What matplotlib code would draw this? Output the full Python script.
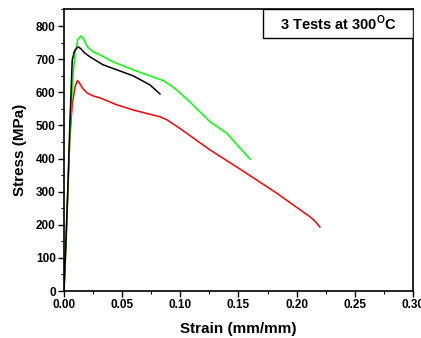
import numpy as np
import matplotlib
matplotlib.use('Agg')
import matplotlib.pyplot as plt
from matplotlib.ticker import MultipleLocator, FormatStrFormatter
from matplotlib.patches import Rectangle

plt.rcParams['font.family'] = ['Liberation Sans', 'DejaVu Sans']
plt.rcParams['font.weight'] = 'bold'
plt.rcParams['mathtext.fontset'] = 'custom'
plt.rcParams['mathtext.bf'] = 'Liberation Sans:bold'
plt.rcParams['mathtext.rm'] = 'Liberation Sans:bold'

# test 1 (black)
strain_black = [0, 0.001, 0.002, 0.0035, 0.005, 0.0071, 0.009, 0.012, 0.014, 0.018, 0.0223, 0.0335, 0.0593, 0.074, 0.0825]
stress_black = [0, 90, 180, 330, 500, 698, 725, 737, 733, 718, 707, 683, 650, 622, 595]

# test 2 (green)
strain_green = [0, 0.001, 0.002, 0.0035, 0.005, 0.0065, 0.008, 0.0095, 0.012, 0.0146, 0.017, 0.020, 0.025, 0.031,
                0.042, 0.0596, 0.075, 0.0854, 0.090, 0.097, 0.110, 0.1255, 0.140, 0.154, 0.160]
stress_green = [0, 90, 180, 320, 470, 575, 660, 719, 760, 770, 760, 738, 722, 713,
                692, 668, 648, 635, 625, 607, 565, 511, 476, 421, 398]

# test 3 (red)
strain_red = [0, 0.001, 0.002, 0.0035, 0.005, 0.007, 0.0095, 0.0114, 0.013, 0.016, 0.0198, 0.025, 0.031, 0.0455,
              0.060, 0.0825, 0.0885, 0.100, 0.1255, 0.1527, 0.183, 0.2115, 0.216, 0.220]
stress_red = [0, 80, 170, 320, 460, 560, 616, 635, 630, 612, 598, 589, 583, 562,
              546, 526, 517, 490, 426, 365, 295, 224, 210, 193]

fig = plt.figure(figsize=(4.21, 3.38), dpi=100)
ax = fig.add_axes([0.152, 0.139, 0.829, 0.834])

ax.plot(strain_red, stress_red, color='#ff0000', lw=1.1)
ax.plot(strain_green, stress_green, color='#00ff00', lw=1.1)
ax.plot(strain_black, stress_black, color='black', lw=1.1)

ax.set_xlim(0, 0.30)
ax.set_ylim(0, 851)
ax.xaxis.set_major_locator(MultipleLocator(0.05))
ax.xaxis.set_minor_locator(MultipleLocator(0.025))
ax.yaxis.set_major_locator(MultipleLocator(100))
ax.yaxis.set_minor_locator(MultipleLocator(50))
ax.xaxis.set_major_formatter(FormatStrFormatter('%.2f'))

for s in ax.spines.values():
    s.set_linewidth(1.2)
ax.tick_params(which='major', direction='out', length=4, width=1.0, labelsize=8.5, pad=2)
ax.tick_params(which='minor', direction='out', length=2, width=0.8)
ax.tick_params(top=False, right=False)
for lab in ax.get_xticklabels() + ax.get_yticklabels():
    lab.set_fontweight('bold')

ax.set_xlabel('Strain (mm/mm)', fontsize=11, fontweight='bold', labelpad=8)
ax.set_ylabel('Stress (MPa)', fontsize=11, fontweight='bold', labelpad=6)

box = Rectangle((0.570, 0.897), 0.430, 0.103, transform=ax.transAxes,
                facecolor='white', edgecolor='black', lw=1.0, zorder=5)
ax.add_patch(box)
ax.text(0.785, 0.9485, r'3 Tests at 300$^\mathbf{O}$C', transform=ax.transAxes,
        ha='center', va='center', fontsize=10.5, fontweight='bold', zorder=6)

fig.savefig('out.png', dpi=100)
